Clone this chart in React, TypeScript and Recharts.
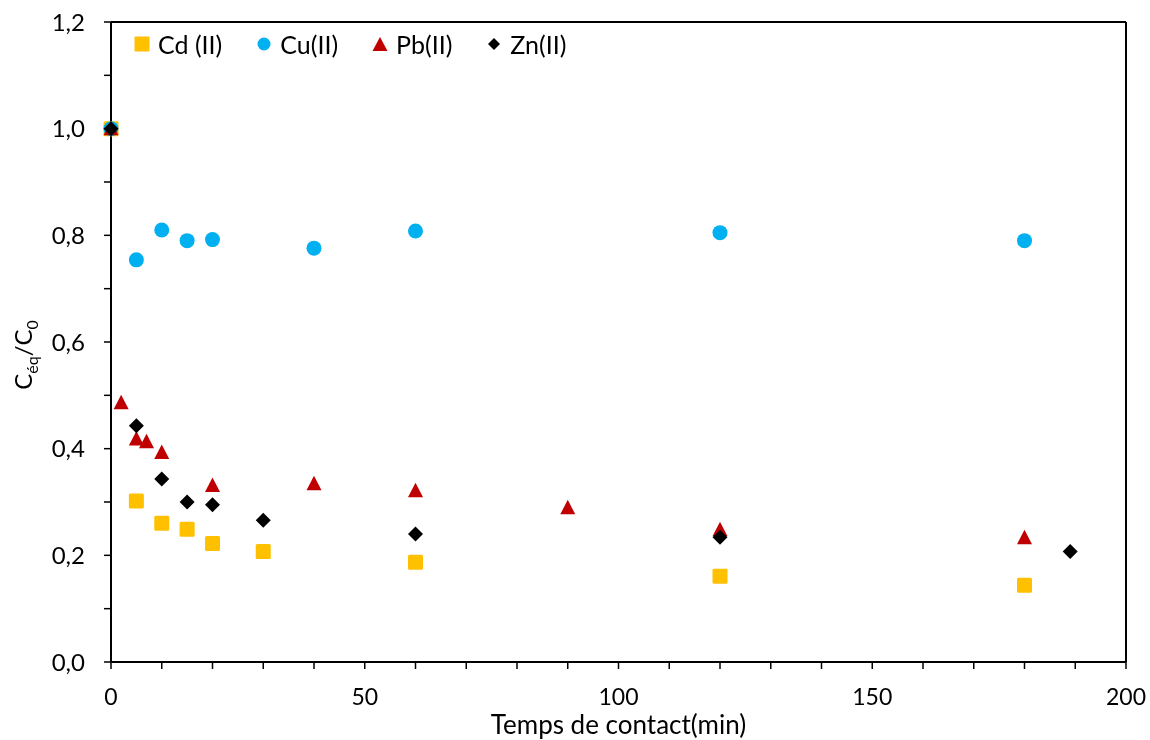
import React from 'react';
import {
  ScatterChart,
  Scatter,
  XAxis,
  YAxis,
  ReferenceLine,
  Legend,
  Label,
} from 'recharts';

const FONT = 'Lato, "Open Sans", sans-serif';

const cdTime = [0, 5, 10, 15, 20, 30, 60, 120, 180];
const cdRatio = [1.0, 0.302, 0.26, 0.249, 0.222, 0.207, 0.187, 0.161, 0.144];

const cuTime = [0, 5, 10, 15, 20, 40, 60, 120, 180];
const cuRatio = [1.0, 0.754, 0.81, 0.79, 0.792, 0.776, 0.808, 0.805, 0.79];

const pbTime = [0, 2, 5, 7, 10, 20, 40, 60, 90, 120, 180];
const pbRatio = [1.0, 0.486, 0.418, 0.413, 0.393, 0.331, 0.334, 0.321, 0.289, 0.248, 0.233];

const znTime = [0, 5, 10, 15, 20, 30, 60, 120, 189];
const znRatio = [1.0, 0.443, 0.343, 0.3, 0.295, 0.266, 0.24, 0.234, 0.207];

const xTicks = [0, 10, 20, 30, 40, 50, 60, 70, 80, 90, 100, 110, 120, 130, 140, 150, 160, 170, 180, 190, 200];
const yTicks = [0, 0.1, 0.2, 0.3, 0.4, 0.5, 0.6, 0.7, 0.8, 0.9, 1.0, 1.1, 1.2];

const zip = (xs: number[], ys: number[]) => xs.map((x, i) => ({ x, y: ys[i] }));

const cdData = zip(cdTime, cdRatio);
const cuData = zip(cuTime, cuRatio);
const pbData = zip(pbTime, pbRatio);
const znData = zip(znTime, znRatio);

const COLORS = { cd: '#FFC000', cu: '#00B0F0', pb: '#C00000', zn: '#000000' };

const SquareDot = (p: any) => (
  <rect x={p.cx - 7.5} y={p.cy - 7.5} width={15} height={15} rx={1.5} fill={COLORS.cd} />
);
const CircleDot = (p: any) => <circle cx={p.cx} cy={p.cy} r={7.5} fill={COLORS.cu} />;
const TriangleDot = (p: any) => (
  <polygon
    points={`${p.cx},${p.cy - 8} ${p.cx + 7.5},${p.cy + 6.5} ${p.cx - 7.5},${p.cy + 6.5}`}
    fill={COLORS.pb}
  />
);
const DiamondDot = (p: any) => (
  <polygon
    points={`${p.cx},${p.cy - 7.5} ${p.cx + 7.5},${p.cy} ${p.cx},${p.cy + 7.5} ${p.cx - 7.5},${p.cy}`}
    fill={COLORS.zn}
  />
);

const legendItems = [
  { name: 'Cd (II)', icon: <rect x={0.5} y={0.5} width={15} height={15} rx={1} fill={COLORS.cd} /> },
  { name: 'Cu(II)', icon: <circle cx={8} cy={8} r={6.5} fill={COLORS.cu} /> },
  { name: 'Pb(II)', icon: <polygon points="8,1 15.5,15 0.5,15" fill={COLORS.pb} /> },
  { name: 'Zn(II)', icon: <polygon points="8,2 14,8 8,14 2,8" fill={COLORS.zn} /> },
];

const renderLegend = () => (
  <div style={{ display: 'flex', alignItems: 'center', fontFamily: FONT, fontSize: 25, color: '#000' }}>
    {legendItems.map((it) => (
      <div key={it.name} style={{ display: 'flex', alignItems: 'center', marginRight: 34 }}>
        <svg width={16} height={16} style={{ marginRight: 8 }}>
          {it.icon}
        </svg>
        <span>{it.name}</span>
      </div>
    ))}
  </div>
);

const fmtY = (v: number) => (Math.round(v * 10) % 2 === 0 ? v.toFixed(1).replace('.', ',') : '');
const fmtX = (v: number) => (v % 50 === 0 ? String(v) : '');

const YTitle = () => (
  <text
    x={0}
    y={0}
    transform="translate(32, 355) rotate(-90)"
    textAnchor="middle"
    fontFamily={FONT}
    fontSize={24}
    fill="#000"
  >
    C<tspan fontSize={16} dy={6}>éq</tspan>
    <tspan dy={-6}>/C</tspan>
    <tspan fontSize={16} dy={6}>0</tspan>
  </text>
);

export default function App() {
  return (
    <div style={{ position: 'fixed', top: 0, left: 0 }}>
      <ScatterChart
        width={1150}
        height={740}
        margin={{ top: 22, right: 24, bottom: 0, left: 31 }}
        style={{ fontFamily: FONT }}
      >
        <XAxis
          type="number"
          dataKey="x"
          domain={[0, 200]}
          ticks={xTicks}
          tickFormatter={fmtX}
          interval={0}
          height={78}
          tickSize={7}
          tickMargin={20}
          axisLine={{ stroke: '#000', strokeWidth: 2 }}
          tickLine={{ stroke: '#000', strokeWidth: 1.5 }}
          tick={{ fill: '#000', fontSize: 23, fontFamily: FONT }}
        >
          <Label
            value="Temps de contact(min)"
            position="insideBottom"
            offset={6}
            style={{ fill: '#000', fontSize: 26, fontFamily: FONT }}
          />
        </XAxis>
        <YAxis
          type="number"
          dataKey="y"
          domain={[0, 1.2]}
          ticks={yTicks}
          tickFormatter={fmtY}
          interval={0}
          width={80}
          tickSize={7}
          tickMargin={19}
          axisLine={{ stroke: '#000', strokeWidth: 2 }}
          tickLine={{ stroke: '#000', strokeWidth: 1.5 }}
          tick={{ fill: '#000', fontSize: 24, fontFamily: FONT }}
        >
          <Label content={<YTitle />} />
        </YAxis>
        <ReferenceLine y={1.2} stroke="#000" strokeWidth={2} />
        <ReferenceLine x={200} stroke="#000" strokeWidth={2} />
        <Legend
          layout="horizontal"
          verticalAlign="middle"
          align="center"
          content={renderLegend}
          wrapperStyle={{ top: 29, left: 134, width: 600 }}
        />
        <Scatter name="Cd (II)" data={cdData} fill={COLORS.cd} shape={SquareDot} isAnimationActive={false} />
        <Scatter name="Cu(II)" data={cuData} fill={COLORS.cu} shape={CircleDot} isAnimationActive={false} />
        <Scatter name="Pb(II)" data={pbData} fill={COLORS.pb} shape={TriangleDot} isAnimationActive={false} />
        <Scatter name="Zn(II)" data={znData} fill={COLORS.zn} shape={DiamondDot} isAnimationActive={false} />
      </ScatterChart>
    </div>
  );
}
